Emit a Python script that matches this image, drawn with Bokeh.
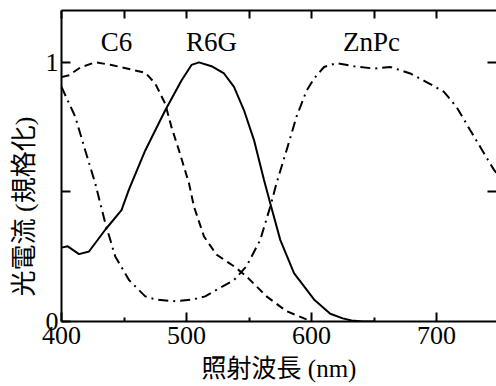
from bokeh.plotting import figure
from bokeh.models import LinearAxis, FixedTicker, Range1d, Label, Title
from bokeh.embed import file_html
from bokeh.resources import INLINE

# ---- data ----
r6g_nm = [400, 405, 414, 422, 435, 448, 454, 467, 483, 496, 504, 510, 520, 530, 538,
          546, 554, 562, 567, 575, 586, 602, 615, 625, 632, 641, 650]
r6g_val = [0.285, 0.29, 0.26, 0.27, 0.354, 0.43, 0.51, 0.66, 0.815, 0.93, 0.99, 1.0, 0.985,
           0.957, 0.905, 0.815, 0.70, 0.546, 0.456, 0.315, 0.187, 0.085, 0.03, 0.012,
           0.004, 0.0, 0.0]

c6_nm = [400, 406, 415, 427, 440, 456, 467, 475, 483, 488, 494, 502, 506, 514, 524, 538,
         548, 564, 580, 596, 600]
c6_val = [0.943, 0.95, 0.98, 1.0, 0.99, 0.972, 0.96, 0.918, 0.84, 0.75, 0.66, 0.533, 0.443,
          0.328, 0.258, 0.213, 0.174, 0.097, 0.04, 0.008, 0.0]

znpc_nm = [400, 411, 419, 427, 435, 443, 454, 467, 475, 491, 505, 515, 522, 538, 548, 559,
           567, 572, 580, 588, 596, 602, 610, 620, 634, 650, 663, 679, 692, 706, 716, 727,
           738, 746, 750]
znpc_val = [0.905, 0.79, 0.66, 0.533, 0.38, 0.251, 0.16, 0.097, 0.085, 0.078, 0.085, 0.097,
            0.117, 0.16, 0.213, 0.315, 0.443, 0.533, 0.66, 0.79, 0.89, 0.937, 0.982, 0.997,
            0.985, 0.976, 0.982, 0.957, 0.924, 0.886, 0.828, 0.738, 0.649, 0.585, 0.56]

x_major = [400, 500, 600, 700]
x_minor = [450, 550, 650]
x_top = [400, 450, 500, 550, 600, 650, 700]
y_major = [0, 1]
y_minor = [0.5]
y_labels = {0: "0", 1: "1"}

series_names = ["C6", "R6G", "ZnPc"]
name_x = [444, 520, 648]
name_y = 1.08

x_title = "照射波長 (nm)"
y_title = "光電流 (規格化)"

SERIF = "Liberation Serif"
MIXED = "'Liberation Serif', 'Noto Sans CJK JP'"

p = figure(width=496, height=384, output_backend="svg", toolbar_location=None,
           x_range=Range1d(400, 748), y_range=Range1d(0, 1.2),
           min_border_left=61, min_border_right=0, min_border_top=10, min_border_bottom=62)
p.outline_line_color = None
p.xgrid.visible = False
p.ygrid.visible = False
p.background_fill_color = "white"
p.border_fill_color = "white"

p.line(r6g_nm, r6g_val, line_color="black", line_width=2)
p.line(c6_nm, c6_val, line_color="black", line_width=2, line_dash="8 5")
p.line(znpc_nm, znpc_val, line_color="black", line_width=2, line_dash="10 5 2 5")

# bottom axis
xa = p.xaxis[0]
xa.ticker = FixedTicker(ticks=x_major, minor_ticks=x_minor)
xa.major_tick_in = 9
xa.major_tick_out = 0
xa.minor_tick_in = 4
xa.minor_tick_out = 0
xa.axis_line_width = 2
xa.major_tick_line_width = 2
xa.minor_tick_line_width = 2
xa.major_label_text_font = SERIF
xa.major_label_text_font_size = "26px"
xa.major_label_text_color = "black"
xa.major_label_standoff = 5
xa.axis_label = x_title
xa.axis_label_text_font = MIXED
xa.axis_label_text_font_size = "25px"
xa.axis_label_text_font_style = "normal"
xa.axis_label_text_color = "black"
xa.axis_label_standoff = 8

# left axis
ya = p.yaxis[0]
ya.ticker = FixedTicker(ticks=y_major, minor_ticks=y_minor)
ya.major_label_overrides = y_labels
ya.major_tick_in = 9
ya.major_tick_out = 0
ya.minor_tick_in = 9
ya.minor_tick_out = 0
ya.axis_line_width = 2
ya.major_tick_line_width = 2
ya.minor_tick_line_width = 2
ya.major_label_text_font = SERIF
ya.major_label_text_font_size = "26px"
ya.major_label_text_color = "black"
ya.major_label_standoff = 3

# y axis title: starts a little above the frame bottom, like the reference
p.add_layout(Title(text=y_title, align="left", offset=25, standoff=7,
                   text_font=MIXED, text_font_size="26px",
                   text_font_style="normal", text_color="black"), "left")

# top axis (ticks only)
ta = LinearAxis(ticker=FixedTicker(ticks=x_top, minor_ticks=[]),
                major_tick_in=8, major_tick_out=0, minor_tick_in=0, minor_tick_out=0,
                axis_line_width=2, major_tick_line_width=2,
                major_label_text_font_size="0px", major_label_text_color=None,
                major_label_standoff=0)
p.add_layout(ta, "above")

# right axis (ticks only)
ra = LinearAxis(ticker=FixedTicker(ticks=[0.5, 1], minor_ticks=[]),
                major_tick_in=9, major_tick_out=0, minor_tick_in=0, minor_tick_out=0,
                axis_line_color=None, major_tick_line_width=2,
                major_label_text_font_size="0px", major_label_text_color=None,
                major_label_standoff=0)
p.add_layout(ra, "right")

for name, nx in zip(series_names, name_x):
    p.add_layout(Label(x=nx, y=name_y, text=name, text_align="center",
                       text_baseline="middle", text_font=SERIF,
                       text_font_size="27px", text_color="black"))

open("out.html", "w").write(file_html(p, INLINE))
